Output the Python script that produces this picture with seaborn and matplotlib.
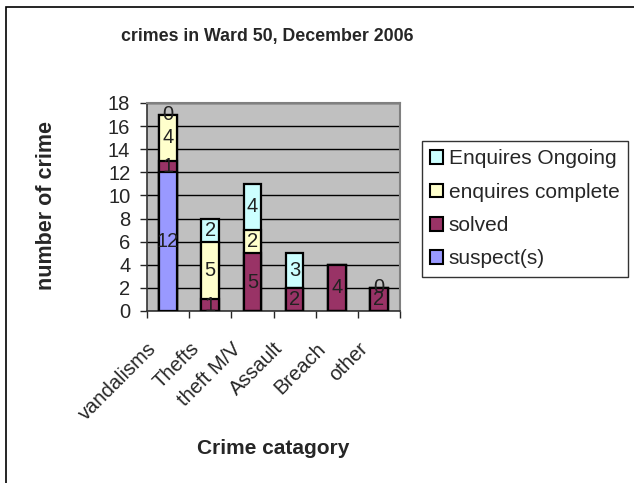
import matplotlib
matplotlib.use("Agg")

import numpy as np
import matplotlib.pyplot as plt
import matplotlib.transforms as mtransforms
import seaborn as sns
from matplotlib.patches import Patch, Rectangle

# ---------------------------------------------
# data (NaN = segment not present / no label)
# ---------------------------------------------
categories = ["vandalisms", "Thefts", "theft M/V", "Assault", "Breach", "other"]
suspect = [12, np.nan, np.nan, np.nan, np.nan, np.nan]
solved = [1, 1, 5, 2, 4, 2]
complete = [4, 5, 2, np.nan, np.nan, np.nan]
ongoing = [0, 2, 4, 3, np.nan, 0]

series_names = ["suspect(s)", "solved", "enquires complete", "Enquires Ongoing"]
series_colors = ["#9999FF", "#993366", "#FFFFCC", "#CCFFFF"]

sns.set_style("white")
plt.rcParams["font.family"] = ["Liberation Sans", "DejaVu Sans"]

fig = plt.figure(figsize=(6.34, 4.83), dpi=100)
ax = fig.add_axes([147 / 634, 1 - 311 / 483, 253 / 634, 208 / 483])
ax.set_facecolor("#C0C0C0")

layers = [np.array(s, dtype=float) for s in (suspect, solved, complete, ongoing)]
filled = [np.nan_to_num(s) for s in layers]
cum = np.cumsum(filled, axis=0)

# draw tallest stack first, lower stacks on top
for i in range(3, -1, -1):
    sns.barplot(x=categories, y=cum[i], order=categories, color=series_colors[i],
                saturation=1, width=0.42, edgecolor="black", linewidth=1.6,
                ax=ax, zorder=3)

# segment labels
for i in range(4):
    bottom = cum[i] - filled[i]
    for j, v in enumerate(layers[i]):
        if np.isnan(v):
            continue
        ax.text(j, bottom[j] + v / 2, f"{int(v)}", ha="center", va="center",
                fontsize=14.5, color="#222222", zorder=5)

ax.set_xlim(-0.5, len(categories) - 0.5)
ax.set_ylim(0, 18)
ax.set_yticks(range(0, 19, 2))
ax.yaxis.grid(True, color="black", linewidth=1)
ax.set_axisbelow(True)

# category labels: rotated, ending a little left of each bar (Excel style)
ax.set_xticks(range(len(categories)))
ax.set_xticklabels([])
lbl_tf = ax.get_xaxis_transform() + mtransforms.ScaledTranslation(-0.21, -0.28, fig.dpi_scale_trans)
for j, name in enumerate(categories):
    ax.text(j, 0, name, transform=lbl_tf, rotation=45, ha="right", va="top",
            rotation_mode="anchor", fontsize=14.5, clip_on=False)

ax.set_xticks(np.arange(-0.5, len(categories), 1), minor=True)
ax.tick_params(axis="x", which="major", length=0)
ax.tick_params(axis="x", which="minor", length=5, width=1, direction="out", bottom=True)
ax.tick_params(axis="y", length=5, width=1, direction="out", left=True, labelsize=14.5, pad=7)

for side in ["top", "right"]:
    ax.spines[side].set_color("#808080")
    ax.spines[side].set_linewidth(1.5)
for side in ["left", "bottom"]:
    ax.spines[side].set_color("#333333")
    ax.spines[side].set_linewidth(1.2)

ax.set_xlabel("")
ax.set_ylabel("")
fig.text(267 / 634, 1 - 37 / 483, "crimes in Ward 50, December 2006", ha="center",
         va="center", fontsize=12.8, fontweight="bold")
fig.text(47 / 634, 1 - 205 / 483, "number of crime", ha="center", va="center",
         rotation=90, fontsize=15.5, fontweight="bold")
fig.text(273 / 634, 1 - 448 / 483, "Crime catagory", ha="center", va="center",
         fontsize=15, fontweight="bold")

handles = [Patch(facecolor=series_colors[i], edgecolor="black", linewidth=1.5,
                 label=series_names[i]) for i in range(3, -1, -1)]
leg = fig.legend(handles=handles, loc="upper left",
                 bbox_to_anchor=(422 / 634, 1 - 141 / 483), fontsize=15,
                 frameon=True, fancybox=False, edgecolor="black",
                 handlelength=0.63, handleheight=0.63, handletextpad=0.25,
                 labelspacing=0.69, borderpad=0.4, borderaxespad=0)
leg.get_frame().set_linewidth(1)

fig.add_artist(Rectangle((5.5 / 634, -0.1), 1.2, 1.1 - 7 / 483, fill=False,
                         edgecolor="black", linewidth=1.2, transform=fig.transFigure))

fig.savefig("out.png", dpi=100, facecolor="white")
